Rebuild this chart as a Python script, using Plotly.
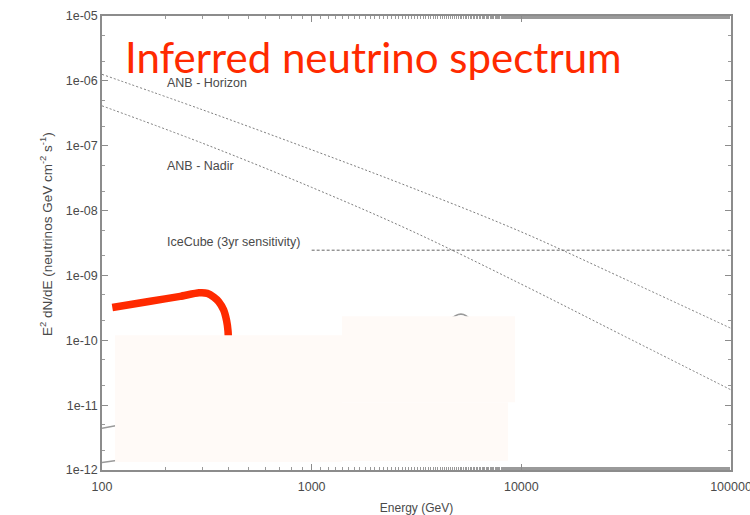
import numpy as np
import plotly.graph_objects as go

# Energy grid (GeV) for the model curves
energy_gev = [100, 300, 1000, 3000, 10000, 30000, 100000]
# E^2 dN/dE (neutrinos GeV cm^-2 s^-1)
anb_horizon = [1.26e-6, 3.6e-7, 8.65e-8, 2.25e-8, 4.69e-9, 9.3e-10, 1.53e-10]
anb_nadir = [4.12e-7, 1.10e-7, 2.28e-8, 4.84e-9, 7.33e-10, 1.22e-10, 1.72e-11]

# IceCube 3-year sensitivity
icecube_energy = [1000, 100000]
icecube_sens = [2.45e-9, 2.45e-9]

# Inferred neutrino spectrum
inferred_energy = [112, 170, 236, 290, 318, 342, 360, 380, 393, 399, 401]
inferred_flux = [3.2e-10, 4.0e-10, 4.75e-10, 5.4e-10, 5.3e-10, 4.6e-10,
                 3.95e-10, 2.95e-10, 2.0e-10, 1.4e-10, 1.0e-10]

# Fragments of further model curves that show around the panels
other_energy = [4650, 5000, 5300, 5650, None, 100, 116, None, 100, 117]
other_flux = [2.2e-10, 2.5e-10, 2.5e-10, 2.2e-10, None, 4.4e-12, 4.8e-12, None, 1.3e-12, 1.4e-12]

# Light panels laid over the lower part of the plot: (E0, E1, F0, F1)
panels = [
    (115.4, 1395, 10 ** -11.877, 10 ** -9.923),
    (1395, 9322, 10 ** -10.954, 10 ** -9.631),
    (1395, 8630, 10 ** -11.862, 10 ** -10.954),
]

x_ticks = [100, 1000, 10000, 100000]
x_tick_text = ["100", "1000", "10000", "100000"]
y_ticks = [1e-12, 1e-11, 1e-10, 1e-9, 1e-8, 1e-7, 1e-6, 1e-5]
y_tick_text = ["1e-12", "1e-11", "1e-10", "1e-09", "1e-08", "1e-07", "1e-06", "1e-05"]

GRAY_LINE = "#7d7d7d"
RED = "#ff2a00"
TXT = "#4a4a4a"

fig = go.Figure()
fig.add_trace(go.Scatter(x=other_energy, y=other_flux, mode="lines",
                         line=dict(color="#9a9a9a", width=1.5, shape="spline"),
                         connectgaps=False, name="other"))
fig.add_trace(go.Scatter(x=energy_gev, y=anb_horizon, mode="lines",
                         line=dict(color=GRAY_LINE, width=1, dash="2px,2px", shape="spline"),
                         name="ANB - Horizon"))
fig.add_trace(go.Scatter(x=energy_gev, y=anb_nadir, mode="lines",
                         line=dict(color=GRAY_LINE, width=1, dash="2px,2px", shape="spline"),
                         name="ANB - Nadir"))
fig.add_trace(go.Scatter(x=icecube_energy, y=icecube_sens, mode="lines",
                         line=dict(color="#666666", width=1, dash="3px,2px"),
                         name="IceCube (3yr sensitivity)"))
fig.add_trace(go.Scatter(x=inferred_energy, y=inferred_flux, mode="lines",
                         line=dict(color=RED, width=7.5, shape="spline", smoothing=0.6),
                         name="Inferred"))

for e0, e1, f0, f1 in panels:
    fig.add_shape(type="rect", xref="x", yref="y", x0=e0, x1=e1, y0=f0, y1=f1,
                  fillcolor="#fffaf7", line=dict(width=0), layer="above")

# Curve labels (annotation coordinates are log10 on log axes)
labels = [("ANB - Horizon", 200, 9.2e-7),
          ("ANB - Nadir", 200, 4.8e-8),
          ("IceCube (3yr sensitivity)", 200, 3.3e-9)]
for text, e, f in labels:
    fig.add_annotation(x=np.log10(e), y=np.log10(f), xref="x", yref="y",
                       text=text, showarrow=False, xanchor="left", yanchor="middle",
                       font=dict(family="Liberation Sans, Arial", size=12.5, color=TXT))

fig.add_annotation(x=0.0334, y=1.0, xref="paper", yref="paper",
                   text="Inferred neutrino spectrum", showarrow=False,
                   xanchor="left", yanchor="top", yshift=-14,
                   font=dict(family="Lato", size=42, color=RED))

fig.add_annotation(x=-0.1065, y=0.52, xref="paper", yref="paper",
                   text="E<sup>2</sup> dN/dE (neutrinos GeV cm<sup>-2</sup> s<sup>-1</sup>)",
                   showarrow=False, textangle=-90,
                   font=dict(family="Liberation Sans, Arial", size=13.5, color=TXT))

axis_common = dict(type="log", showgrid=False, zeroline=False, showline=True,
                   linecolor="#8c8c8c", linewidth=1.5, mirror="ticks",
                   ticks="inside", ticklen=6, tickwidth=1, tickcolor="#8c8c8c",
                   minor=dict(ticks="inside", ticklen=3, tickcolor="#9a9a9a", showgrid=False),
                   ticklabeloverflow="allow", automargin=False,
                   tickfont=dict(family="Liberation Sans, Arial", size=12.5, color=TXT))

fig.update_xaxes(range=[2, 5], tickvals=x_ticks, ticktext=x_tick_text,
                 ticklabelstandoff=4,
                 title=dict(text="Energy (GeV)", standoff=14,
                            font=dict(family="Liberation Sans, Arial", size=12, color=TXT)),
                 **axis_common)
fig.update_yaxes(range=[-12, -5], tickvals=y_ticks, ticktext=y_tick_text, **axis_common)

fig.update_layout(width=750, height=515, margin=dict(l=102, r=19, t=16, b=45),
                  paper_bgcolor="white", plot_bgcolor="white", showlegend=False)

fig.write_html("out.html")
